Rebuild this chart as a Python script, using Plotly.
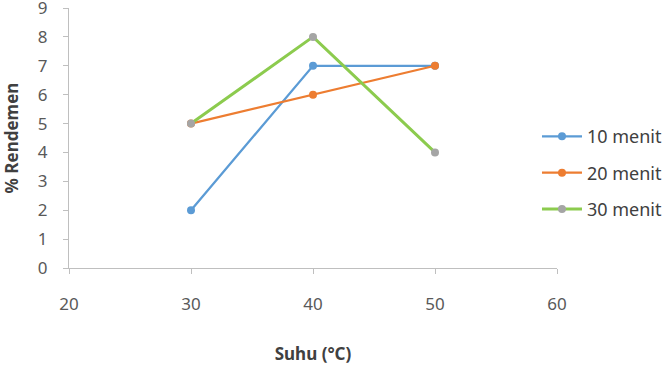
import plotly.graph_objects as go

suhu = [30, 40, 50]
menit10 = [2, 7, 7]
menit20 = [5, 6, 7]
menit30 = [5, 8, 4]
names = ["10 menit", "20 menit", "30 menit"]

FONT = "Noto Sans, Liberation Sans, sans-serif"

fig = go.Figure()
fig.add_trace(go.Scatter(x=suhu, y=menit10, name=names[0], mode="lines+markers",
                         line=dict(color="#5B9BD5", width=2.25),
                         marker=dict(color="#5B9BD5", size=8), legendgroup="a"))
fig.add_trace(go.Scatter(x=suhu, y=menit20, name=names[1], mode="lines+markers",
                         line=dict(color="#ED7D31", width=2.25),
                         marker=dict(color="#ED7D31", size=8), legendgroup="b"))
fig.add_trace(go.Scatter(x=suhu, y=menit30, name=names[2], mode="lines+markers",
                         line=dict(color="#8CCB4E", width=3),
                         marker=dict(color="#A5A5A5", size=8), legendgroup="c"))

tickfont = dict(family=FONT, size=17, color="#595959")
titlefont = dict(family=FONT, size=17, color="#404040")
fig.update_layout(
    width=671, height=370,
    margin=dict(l=69, r=114, t=8, b=102, autoexpand=False),
    plot_bgcolor="white", paper_bgcolor="white",
    showlegend=True,
    legend=dict(x=0.959, xanchor="left", y=0.365, yanchor="middle",
                font=dict(family=FONT, size=18, color="#404040"),
                tracegroupgap=10, traceorder="grouped", itemwidth=40),
    xaxis=dict(range=[20, 60], tickvals=[20, 30, 40, 50, 60], showgrid=False,
               showline=True, linecolor="#BFBFBF", linewidth=1, ticks="outside",
               tickcolor="#BFBFBF", ticklen=5, tickfont=tickfont, ticklabelstandoff=16,
               ticklabeloverflow="allow", zeroline=False, automargin=False,
               title=dict(text="<b>Suhu (°C)</b>", standoff=33, font=titlefont)),
    yaxis=dict(range=[0, 9], tickvals=list(range(10)), showgrid=False,
               showline=True, linecolor="#BFBFBF", linewidth=1, ticks="outside",
               tickcolor="#BFBFBF", ticklen=5, tickfont=tickfont, ticklabelstandoff=12,
               ticklabeloverflow="allow", zeroline=False, automargin=False,
               title=dict(text="<b>% Rendemen</b>", standoff=14, font=titlefont)),
)
fig.write_html("out.html", config={"displayModeBar": False},
               post_script="document.body.style.margin='0';document.body.style.overflow='hidden';")
